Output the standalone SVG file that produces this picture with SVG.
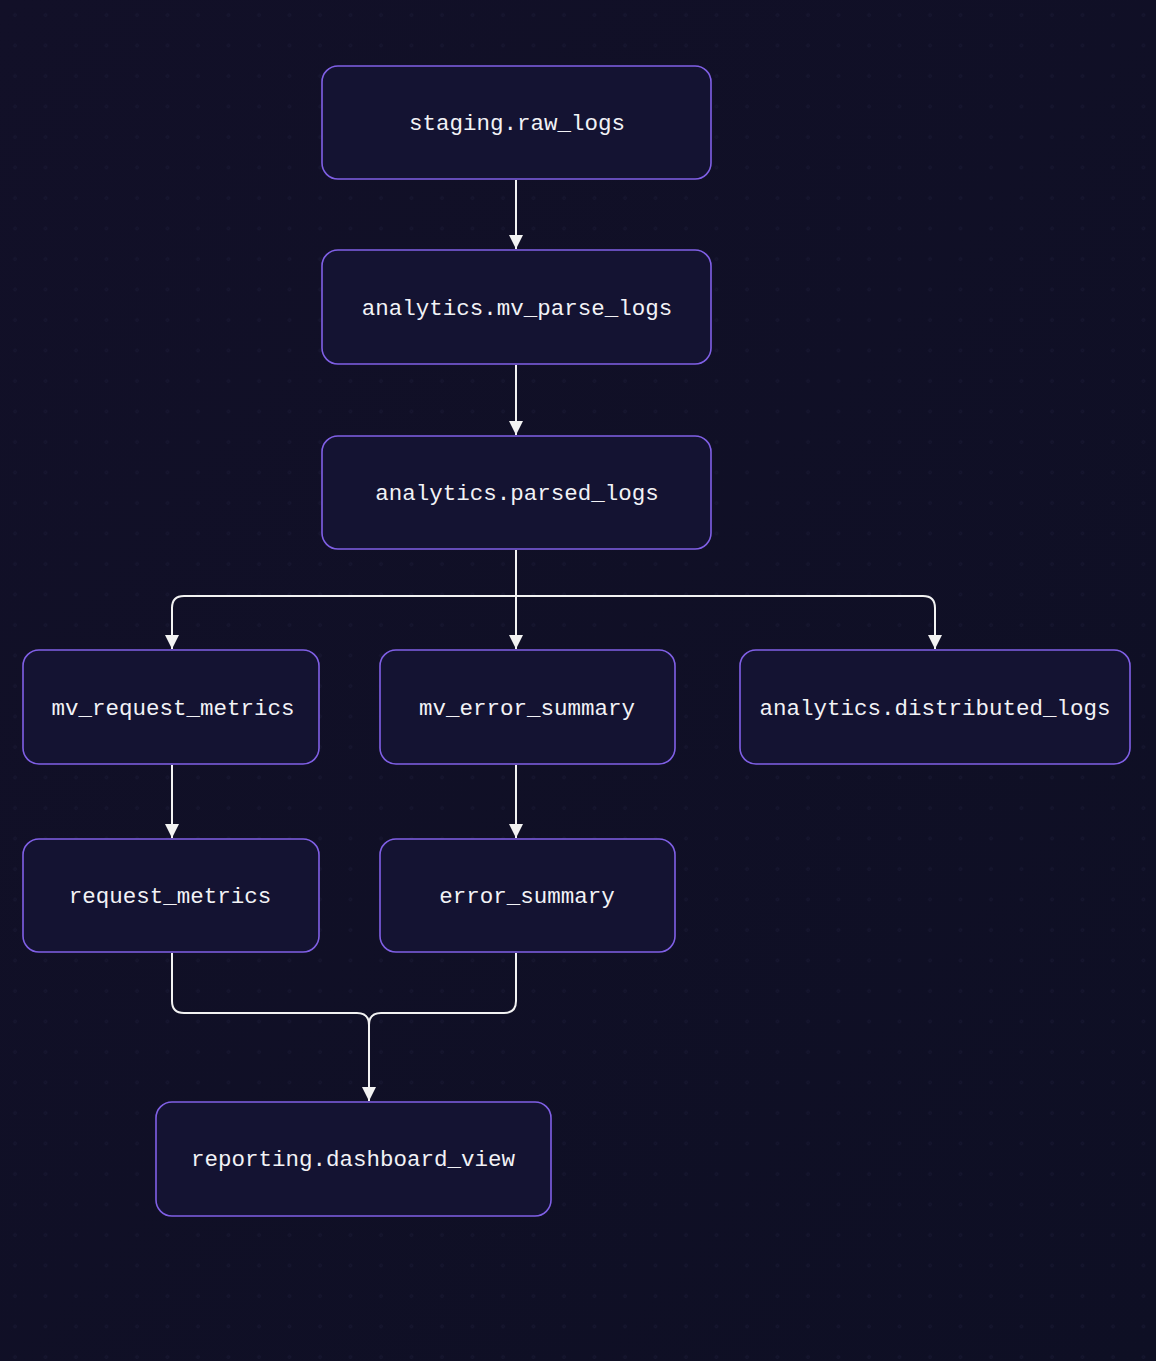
<svg xmlns="http://www.w3.org/2000/svg" width="1156" height="1361" viewBox="0 0 1156 1361">
<style>
.n{fill:#141332;stroke:#8060e6;stroke-width:1.6}
.t{fill:#f2f2f6;font-family:"Liberation Mono","DejaVu Sans Mono",monospace;font-size:22.5px;text-anchor:middle;dominant-baseline:central}
.e{fill:none;stroke:#f2f2f2;stroke-width:2}
</style>
<defs>
<marker id="a" viewBox="0 0 10 10" refX="10" refY="5" markerWidth="14" markerHeight="14" markerUnits="userSpaceOnUse" orient="auto"><path d="M0,0L10,5L0,10z" fill="#f2f2f2"/></marker>
<pattern id="g" width="30.5" height="30.5" patternUnits="userSpaceOnUse"><circle cx="15" cy="15" r="1.3" fill="none" stroke="#1c1c38" stroke-width="0.7"/></pattern>
<linearGradient id="bg" x1="0" y1="0" x2="1" y2="1"><stop offset="0" stop-color="#121028"/><stop offset="1" stop-color="#0e0f24"/></linearGradient>
</defs>
<rect width="1156" height="1361" fill="url(#bg)"/>
<rect width="1156" height="1361" fill="url(#g)"/>
<g id="edges">
<path class="e" marker-end="url(#a)" d="M516,180V249"/>
<path class="e" marker-end="url(#a)" d="M516,365V435"/>
<path class="e" marker-end="url(#a)" d="M516,550V649"/>
<path class="e" marker-end="url(#a)" d="M516,550V596H184Q172,596 172,608V649"/>
<path class="e" marker-end="url(#a)" d="M516,550V596H923Q935,596 935,608V649"/>
<path class="e" marker-end="url(#a)" d="M172,765V838"/>
<path class="e" marker-end="url(#a)" d="M516,765V838"/>
<path class="e" marker-end="url(#a)" d="M172,953V1001Q172,1013 184,1013H357Q369,1013 369,1025V1101"/>
<path class="e" d="M516,953V1001Q516,1013 504,1013H381Q369,1013 369,1025"/>
</g>
<g id="n1"><rect class="n" x="322" y="66" width="389" height="113" rx="16"/><text class="t" x="517" y="124">staging.raw_logs</text></g>
<g id="n2"><rect class="n" x="322" y="250" width="389" height="114" rx="16"/><text class="t" x="517" y="309">analytics.mv_parse_logs</text></g>
<g id="n3"><rect class="n" x="322" y="436" width="389" height="113" rx="16"/><text class="t" x="517" y="494">analytics.parsed_logs</text></g>
<g id="n4"><rect class="n" x="23" y="650" width="296" height="114" rx="16"/><text class="t" x="173" y="709">mv_request_metrics</text></g>
<g id="n5"><rect class="n" x="380" y="650" width="295" height="114" rx="16"/><text class="t" x="527" y="709">mv_error_summary</text></g>
<g id="n6"><rect class="n" x="740" y="650" width="390" height="114" rx="16"/><text class="t" x="935" y="709">analytics.distributed_logs</text></g>
<g id="n7"><rect class="n" x="23" y="839" width="296" height="113" rx="16"/><text class="t" x="170" y="897">request_metrics</text></g>
<g id="n8"><rect class="n" x="380" y="839" width="295" height="113" rx="16"/><text class="t" x="527" y="897">error_summary</text></g>
<g id="n9"><rect class="n" x="156" y="1102" width="395" height="114" rx="16"/><text class="t" x="353" y="1160">reporting.dashboard_view</text></g>
</svg>
